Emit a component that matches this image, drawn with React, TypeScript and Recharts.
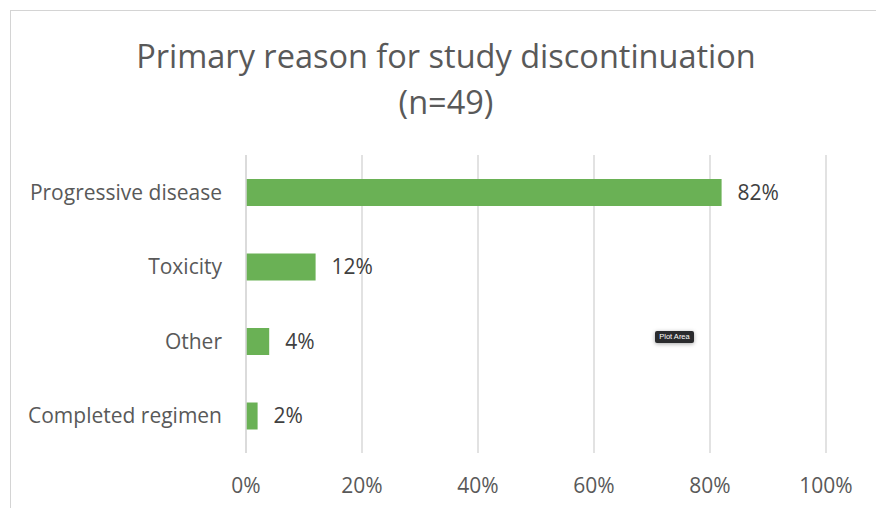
import { BarChart, Bar, XAxis, YAxis, CartesianGrid, LabelList } from 'recharts'

const reasons = ['Progressive disease', 'Toxicity', 'Other', 'Completed regimen']
const shares = [82, 12, 4, 2]
const pctTicks = [0, 20, 40, 60, 80, 100]

const rows = reasons.map((reason, i) => ({ reason, share: shares[i] }))

const FONT = '"Open Sans", Lato, sans-serif'
const GREEN = '#6ab155'
const GRID = '#d9d9d9'

export default function App() {
  return (
    <div style={{ position: 'relative', width: 876, height: 508, overflow: 'hidden', background: '#fff', fontFamily: FONT }}>
      <style>{'body { margin: 0; }'}</style>
      {/* chart frame, only top and left edges fall inside the view */}
      <div
        style={{
          position: 'absolute', left: 10, top: 10, width: 1000, height: 700,
          border: '1.5px solid #d4d4d4', boxSizing: 'border-box',
        }}
      />
      <div
        style={{
          position: 'absolute', left: 0, top: 33, width: 892, textAlign: 'center',
          color: '#595959', fontSize: 32.5, lineHeight: '46px',
        }}
      >
        Primary reason for study discontinuation
        <br />
        (n=49)
      </div>
      <div style={{ position: 'absolute', left: 0, top: 0 }}>
        <BarChart
          width={876}
          height={508}
          data={rows}
          layout="vertical"
          margin={{ top: 155, right: 50, bottom: 15, left: 0 }}
          barCategoryGap={0}
        >
          <CartesianGrid horizontal={false} stroke={GRID} strokeWidth={1.5} />
          <XAxis
            type="number"
            domain={[0, 100]}
            ticks={pctTicks}
            tickFormatter={(v: number) => `${v}%`}
            tick={{ fill: '#595959', fontSize: 21, fontFamily: FONT }}
            tickLine={false}
            axisLine={false}
            tickSize={0}
            tickMargin={25}
            height={40}
            interval={0}
          />
          <YAxis
            type="category"
            dataKey="reason"
            width={246}
            tick={{ fill: '#595959', fontSize: 21, fontFamily: FONT }}
            tickLine={false}
            axisLine={{ stroke: GRID, strokeWidth: 1.5 }}
            tickSize={0}
            tickMargin={24}
            interval={0}
          />
          <Bar dataKey="share" fill={GREEN} barSize={27} isAnimationActive={false}>
            <LabelList
              dataKey="share"
              position="right"
              offset={16}
              formatter={(v: any) => `${v}%`}
              fill="#404040"
              fontSize={21}
              fontFamily={FONT}
            />
          </Bar>
        </BarChart>
      </div>
      {/* hover hint left over from the spreadsheet */}
      <div
        style={{
          position: 'absolute', left: 655, top: 331, width: 39, height: 12,
          background: '#2a2b2d', color: '#fff', fontSize: 7.5, lineHeight: '12px',
          textAlign: 'center', borderRadius: 2, fontFamily: 'Helvetica, Arial, sans-serif',
          boxShadow: '0 1px 4px rgba(0,0,0,0.35)',
        }}
      >
        Plot Area
      </div>
    </div>
  )
}
